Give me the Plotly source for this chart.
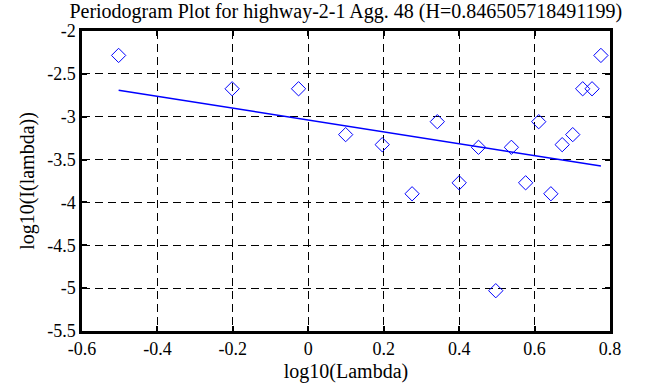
import plotly.graph_objects as go

# log10(Lambda) values
log_lambda = [-0.5029, -0.2019, -0.0258, 0.0991, 0.1960, 0.2752, 0.3421,
              0.4001, 0.4513, 0.4971, 0.5385, 0.5763, 0.6110, 0.6432,
              0.6732, 0.7012, 0.7276, 0.7524, 0.7759]
# log10(I(lambda)) values
log_I = [-2.285, -2.674, -2.674, -3.209, -3.326, -3.899, -3.058,
         -3.771, -3.357, -5.03, -3.357, -3.771, -3.058, -3.899,
         -3.326, -3.209, -2.674, -2.674, -2.285]
# least-squares fit line endpoints
fit_x = [-0.5029, 0.7759]
fit_y = [-2.69, -3.575]

title_text = "Periodogram Plot for highway-2-1 Agg. 48 (H=0.846505718491199)"
x_ticks = [-0.6, -0.4, -0.2, 0, 0.2, 0.4, 0.6, 0.8]
x_tick_labels = ["-0.6", "-0.4", "-0.2", "0", "0.2", "0.4", "0.6", "0.8"]
y_ticks = [-5.5, -5, -4.5, -4, -3.5, -3, -2.5, -2]
y_tick_labels = ["-5.5", "-5", "-4.5", "-4", "-3.5", "-3", "-2.5", "-2"]

FONT = "Liberation Serif"

fig = go.Figure()
fig.add_trace(go.Scatter(
    x=log_lambda, y=log_I, mode="markers",
    marker=dict(symbol="diamond-open", size=11, color="#0000ff",
                line=dict(width=1, color="#0000ff")),
    showlegend=False))
fig.add_trace(go.Scatter(
    x=fit_x, y=fit_y, mode="lines",
    line=dict(color="#0000ff", width=1.5),
    showlegend=False))

axis_common = dict(
    showline=True, linecolor="black", linewidth=2.5, mirror="allticks",
    ticks="inside", ticklen=5, tickwidth=2, tickcolor="black",
    showgrid=True, gridcolor="black", gridwidth=1, griddash="8px,5px",
    zeroline=False, tickfont=dict(family=FONT, size=18, color="black"),
    automargin=False,
)

fig.update_layout(
    width=663, height=387,
    margin=dict(l=82, r=53, t=31, b=56),
    paper_bgcolor="white", plot_bgcolor="white",
    font=dict(family=FONT, color="black"),
    title=dict(text=title_text, x=0.5215, xanchor="center", y=0.99, yanchor="top",
               font=dict(family=FONT, size=20, color="black")),
    xaxis=dict(range=[-0.6, 0.8], tickvals=x_ticks, ticktext=x_tick_labels,
               title=dict(text="log10(Lambda)", font=dict(family=FONT, size=20), standoff=6),
               **axis_common),
    yaxis=dict(range=[-5.5, -2], tickvals=y_ticks, ticktext=y_tick_labels,
               title=dict(text="log10(I(lambda))", font=dict(family=FONT, size=20), standoff=8),
               **axis_common),
)

fig.write_html("out.html", config={"displayModeBar": False},
               post_script="document.body.style.margin='0';")
